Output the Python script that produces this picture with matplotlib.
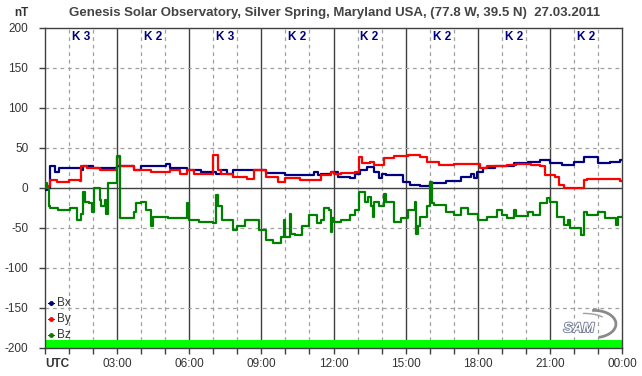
import matplotlib
matplotlib.use("Agg")
import matplotlib.pyplot as plt
from matplotlib.patches import Arc

plt.rcParams['font.family'] = ['Liberation Sans', 'DejaVu Sans']

# ---- data (hours UTC, nT) ----
hx = [0, 0.1, 0.2, 0.4, 0.6, 1.0, 1.5, 1.6, 2.0, 3.0,
      3.7, 4.0, 5.05, 5.2, 5.9, 6.5, 7.1, 7.3, 7.55, 7.8,
      8.7, 9.2, 10.0, 11.2, 11.35, 11.5, 11.9, 12.2, 12.7, 12.9,
      13.1, 13.4, 13.7, 13.9, 14.0, 14.2, 14.9, 15.2, 15.6, 16.0,
      16.7, 17.3, 17.7, 17.85, 17.95, 18.2, 18.7, 19.5, 20.1, 20.6,
      21.0, 21.5, 22.0, 22.4, 23.0, 23.5, 23.9, 24.0]
bx = [-3, 0, 28, 20, 25, 25, 22, 27, 25, 27,
      22, 27, 30, 25, 23, 20, 18, 22, 18, 22,
      23, 19, 16, 20, 16, 18, 20, 14, 12, 18,
      22, 26, 20, 12, 18, 16, 8, 4, 2, 6,
      9, 14, 18, 12, 20, 25, 27.5, 31, 33, 35,
      31, 29, 33, 39, 31, 33, 35, 35]

hy = [0, 0.1, 0.2, 0.5, 1.0, 1.45, 1.5, 1.75, 2.3, 2.95,
      3.0, 3.1, 3.7, 4.4, 5.2, 5.6, 5.9, 6.2, 7.0, 7.2,
      7.3, 7.8, 8.4, 8.7, 9.2, 9.7, 10.0, 10.6, 11.5, 11.9,
      12.0, 12.3, 12.9, 13.05, 13.2, 13.5, 13.7, 14.1, 14.5, 15.1,
      15.6, 15.9, 16.4, 17.0, 18.1, 18.4, 19.2, 19.6, 20.2, 20.6,
      20.8, 21.2, 21.4, 21.6, 22.4, 22.55, 23.9, 24.0]
by = [0, 2, 10, 8, 10, 9, 27, 25, 22, 24,
      39, 27, 22, 20, 23, 18, 22, 18, 41, 22,
      18, 14, 11, 22, 14, 7, 12, 10, 16, 20,
      18, 19, 20, 39, 31, 32, 29, 37, 40, 41,
      39, 33, 29, 30, 25, 27, 29, 30, 29, 27,
      16, 14, 4, 0.5, 10, 11, 9, 9]

hz = [0, 0.08, 0.15, 0.2, 0.55, 1.05, 1.35, 1.5, 1.6, 1.65,
      1.85, 1.95, 2.05, 2.3, 2.35, 2.5, 2.55, 2.63, 3.0, 3.12,
      3.7, 3.8, 4.0, 4.2, 4.4, 4.5, 5.1, 5.9, 6.0, 6.4,
      7.0, 7.12, 7.2, 7.35, 7.8, 8.0, 8.3, 8.9, 9.2, 9.5,
      9.8, 9.95, 10.0, 10.2, 10.25, 10.4, 10.7, 11.0, 11.3, 11.5,
      11.6, 11.8, 11.88, 11.95, 12.0, 12.3, 12.7, 12.9, 13.05, 13.3,
      13.45, 13.55, 13.65, 13.7, 13.9, 14.1, 14.2, 14.5, 14.8, 15.1,
      15.4, 15.45, 15.5, 15.6, 15.9, 16.0, 16.1, 16.2, 16.7, 17.0,
      17.3, 17.6, 18.0, 18.4, 18.8, 19.0, 19.2, 19.5, 19.6, 20.1,
      20.3, 20.6, 20.9, 21.0, 21.3, 21.6, 21.75, 21.85, 22.3, 22.4,
      22.55, 23.0, 23.3, 23.75, 23.85, 24.0]
bz = [6, 0, -23, -25, -28, -25, -40, -32, -5, -17,
      -19, -30, 0, -15, -23, -15, -32, 6, 40, -37,
      -30, -19, -17, -27, -48, -36, -38, -19, -40, -42,
      -44, -9, -23, -40, -52, -48, -40, -52, -65, -69,
      -61, -40, -61, -32, -57, -59, -48, -34, -44, -40,
      -25, -27, -55, -38, -42, -40, -34, -27, -5, -17,
      -11, -23, -36, -17, -23, -7, -17, -42, -38, -27,
      -17, -57, -48, -36, -23, 8, -19, -21, -30, -34,
      -25, -32, -40, -36, -27, -34, -38, -28, -35, -30,
      -34, -19, -13, -17, -36, -46, -40, -50, -59, -30,
      -34, -30, -38, -46, -36, -36]

k_index = ["K 3", "K 2", "K 3", "K 2", "K 2", "K 2", "K 2", "K 2"]
x_tick_labels = ["UTC", "03:00", "06:00", "09:00", "12:00", "15:00", "18:00", "21:00", "00:00"]
y_ticks = [200, 150, 100, 50, 0, -50, -100, -150, -200]
title = "Genesis Solar Observatory, Silver Spring, Maryland USA, (77.8 W, 39.5 N)  27.03.2011"

# ---- figure ----
W, H = 642, 376
fig = plt.figure(figsize=(W / 100, H / 100), dpi=100)
ax = fig.add_axes([45 / W, (H - 348) / H, 577 / W, 320 / H])
ax.set_xlim(0, 24)
ax.set_ylim(-200, 200)

txt = '#333333'
dark = '#404040'

# grid
for h in range(1, 24):
    if h % 3 == 0:
        ax.axvline(h, color=dark, lw=1.0, zorder=1)
    else:
        ax.axvline(h, color='#a0a0a0', lw=0.9, ls=(0, (3, 3)), zorder=1)
for v in y_ticks:
    if v == 0:
        ax.axhline(v, color=dark, lw=1.0, zorder=1)
    elif abs(v) != 200:
        ax.axhline(v, color='#a0a0a0', lw=0.9, ls=(0, (3, 3)), zorder=1)

# green bar at bottom
ax.axhspan(-200, -190, color='#00ff00', lw=0, zorder=2)

# series
ax.plot(hx, bx, color='#000080', lw=1.6, drawstyle='steps-post', zorder=3)
ax.plot(hy, by, color='#ff0000', lw=1.6, drawstyle='steps-post', zorder=4)
ax.plot(hz, bz, color='#008000', lw=1.6, drawstyle='steps-post', zorder=5)

# K labels
for i, k in enumerate(k_index):
    ax.text(3 * i + 1.5, 189, k, ha='center', va='center', color='#000080',
            fontsize=8.5, fontweight='bold', zorder=6)

# axes styling
for s in ax.spines.values():
    s.set_color(dark)
    s.set_linewidth(1.0)
ax.set_yticks(y_ticks)
ax.set_yticklabels([str(v) for v in y_ticks])
ax.set_xticks(range(0, 25))
ax.set_xticklabels([x_tick_labels[h // 3] if h % 3 == 0 else '' for h in range(25)])
ax.tick_params(axis='both', direction='out', length=4, width=1, color=dark,
               labelcolor=txt, labelsize=8.5, pad=3)
ax.tick_params(axis='y', pad=8)
lbls = ax.get_xticklabels()
lbls[0].set_fontweight('bold')
lbls[0].set_ha('left')

# legend
leg_items = [("Bx", '#000080', 0.142), ("By", '#ff0000', 0.09), ("Bz", '#008000', 0.04)]
for name, col, yy in leg_items:
    ax.plot([0.006, 0.016], [yy, yy], transform=ax.transAxes, color=col, lw=0.8, zorder=6)
    ax.plot([0.011], [yy], transform=ax.transAxes, marker='o', ms=2.5, color=col, zorder=6)
    ax.text(0.02, yy, name, transform=ax.transAxes, ha='left', va='center',
            fontsize=8.5, color=txt, zorder=6)

# SAM logo
ax.text(0.925, 0.062, "SAM", transform=ax.transAxes, ha='center', va='center',
        fontsize=10, fontstyle='italic', fontweight='bold', color='white', zorder=7,
        path_effects=[__import__('matplotlib.patheffects', fromlist=['x']).withStroke(
            linewidth=1.2, foreground='#6a7590')])
arc = Arc((0.952, 0.075), 0.075, 0.085, theta1=-80, theta2=95, transform=ax.transAxes,
          color='#8a8a8a', lw=2.0, zorder=6)
ax.add_patch(arc)
arc2 = Arc((0.935, 0.078), 0.08, 0.06, theta1=30, theta2=95, transform=ax.transAxes,
           color='#a0a0a0', lw=1.0, zorder=6)
ax.add_patch(arc2)

# titles
fig.text(335 / W, 1 - 13 / H, title, ha='center', va='center', fontsize=9.5,
         fontweight='bold', color='#444444')
fig.text(21 / W, 1 - 13 / H, "nT", ha='center', va='center', fontsize=8.5,
         fontweight='bold', color='#333333')

fig.savefig("out.png", dpi=100, facecolor='white')
